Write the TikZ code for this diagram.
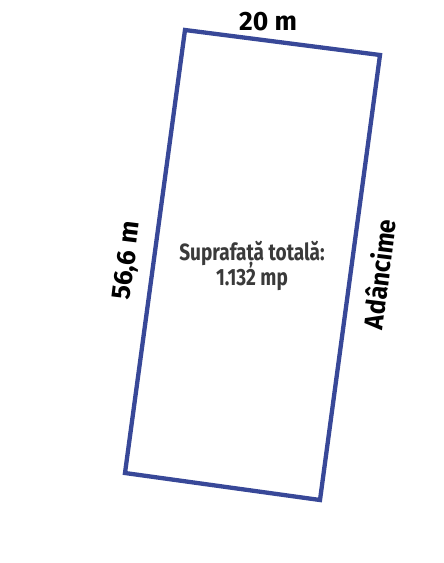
\documentclass[tikz,border=0pt]{standalone}
\usepackage{fontspec}
\setmainfont{Fira Sans}
\definecolor{lotblue}{RGB}{56,72,152}
\definecolor{areagray}{RGB}{58,58,58}
\newcommand{\narrowtext}[2][0.81]{\scalebox{#1}[1]{#2}}
\tikzset{
  lot/.style = {draw = lotblue, line width = 4.3pt, line join = miter},
  dim/.style = {font = \fontsize{26.5}{26}\selectfont\bfseries, text = black, inner sep = 0pt},
  area/.style = {font = \fontsize{23.5}{22}\selectfont\bfseries, text = areagray, align = center, inner sep = 0pt},
}
\begin{document}
\begin{tikzpicture}[x = 1pt, y = -1pt]
\useasboundingbox [fill = white] (0,0) rectangle (444,563);
% corners of the lot
\coordinate (nw) at (185,30);
\coordinate (ne) at (380,55);
\coordinate (se) at (320,500);
\coordinate (sw) at (125,473);
\draw [lot] (nw) -- (ne) -- (se) -- (sw) -- cycle;
\node (front) at (268,22) [dim] {20 m};
\node (side) at (128,261) [dim, rotate = 83] {56,6 m};
\node (depth) at (379,274) [dim, rotate = 83] {\narrowtext[0.93]{Adâncime}};
\node (total) at (252,266) [area] {\narrowtext{Suprafață totală:}\\\narrowtext{1.132 mp}};
\end{tikzpicture}
\end{document}
